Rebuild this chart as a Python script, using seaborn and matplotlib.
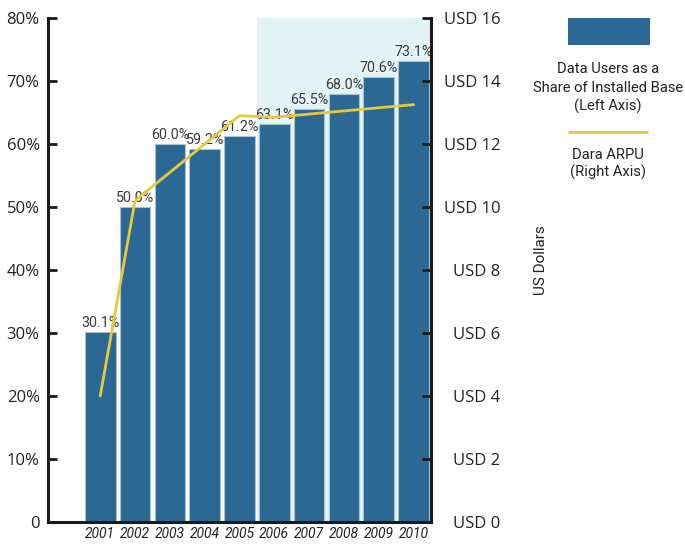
import matplotlib
matplotlib.use("Agg")
import matplotlib.pyplot as plt
from matplotlib.patches import Rectangle
from matplotlib.lines import Line2D
import numpy as np
import pandas as pd
import seaborn as sns

years = ["2001", "2002", "2003", "2004", "2005", "2006", "2007", "2008", "2009", "2010"]
data_share = [30.1, 50.0, 60.0, 59.2, 61.2, 63.1, 65.5, 68.0, 70.6, 73.1]
arpu_usd = [4.0, 10.2, 11.1, 12.0, 12.9, 12.85, 12.95, 13.05, 13.15, 13.25]
left_ticks = [0, 10, 20, 30, 40, 50, 60, 70, 80]
left_labels = ["0", "10%", "20%", "30%", "40%", "50%", "60%", "70%", "80%"]
right_ticks = [0, 2, 4, 6, 8, 10, 12, 14, 16]
right_labels = ["USD 0", "USD 2", "USD 4", "USD 6", "USD 8", "USD 10", "USD 12", "USD 14", "USD 16"]
forecast_start = 4.5  # shading begins between 2005 and 2006

sns.set_theme(style="white")
plt.rcParams["font.family"] = ["Roboto", "DejaVu Sans"]

BAR = "#2b6893"
LINE = "#e8c93a"
SHADE = "#e3f3f6"
TXT = "#222222"
AXIS_FONT = ["Open Sans", "DejaVu Sans"]

df = pd.DataFrame({"year": years, "share": data_share, "idx": np.arange(len(years)), "arpu": arpu_usd})

fig = plt.figure(figsize=(6.85, 5.44), dpi=100)
ax = fig.add_axes([48 / 685, 1 - 522 / 544, (431 - 48) / 685, (522 - 18) / 544])

ax.axvspan(forecast_start, len(years) - 0.5, color=SHADE, zorder=0, lw=0)
sns.barplot(data=df, x="year", y="share", color=BAR, width=0.88, saturation=1,
            edgecolor="#a5c1d4", linewidth=0.8, ax=ax, zorder=2)
ax.set_xlim(-1.5, len(years) - 0.5)
ax.set_ylim(0, 80)
ax.set_yticks(left_ticks)
ax.set_yticklabels(left_labels, fontsize=12, color=TXT, family=AXIS_FONT)
ax.set_xlabel("")
ax.set_ylabel("")
for lbl in ax.get_xticklabels():
    lbl.set_fontstyle("italic")
    lbl.set_fontsize(10)
    lbl.set_color(TXT)
ax.tick_params(axis="x", length=0, pad=3.5)
ax.tick_params(axis="y", direction="in", length=6.5, width=2, color="#1a1a1a", pad=6)

ax.bar_label(ax.containers[0], labels=[f"{v:.1f}%" for v in data_share],
             padding=1.5, fontsize=10.3, color="#3a3a3a")

for side in ["top", "right"]:
    ax.spines[side].set_visible(False)
for side in ["left", "bottom"]:
    ax.spines[side].set_color("#1a1a1a")
    ax.spines[side].set_linewidth(2.2)

ax2 = ax.twinx()
sns.lineplot(data=df, x="idx", y="arpu", color=LINE, linewidth=2.0, ax=ax2, zorder=3)
ax2.set_ylim(0, 16)
ax2.set_xlim(-1.5, len(years) - 0.5)
ax2.set_yticks(right_ticks)
ax2.set_yticklabels(right_labels, fontsize=12, color=TXT, ha="right", family=AXIS_FONT)
ax2.tick_params(axis="y", direction="in", length=6.5, width=2, color="#1a1a1a", pad=50)
ax2.set_ylabel("US Dollars", fontsize=11, color=TXT)
ax2.yaxis.set_label_coords(1.27, 0.52)
ax2.set_xlabel("")
for side in ["top", "left", "bottom"]:
    ax2.spines[side].set_visible(False)
ax2.spines["right"].set_color("#1a1a1a")
ax2.spines["right"].set_linewidth(2.2)
ax2.grid(False)
ax.grid(False)

# Legend drawn in figure space
W, H = 685, 544
fig.patches.append(Rectangle((568 / W, 1 - 45 / H), 82 / W, 27 / H,
                             transform=fig.transFigure, facecolor=BAR, edgecolor="none"))
for y, t in [(69, "Data Users as a"), (88, "Share of Installed Base"), (106, "(Left Axis)")]:
    fig.text(608 / W, 1 - y / H, t, ha="center", va="center", fontsize=10.6, color=TXT)
fig.lines.append(Line2D([569 / W, 647 / W], [1 - 132 / H, 1 - 132 / H],
                        transform=fig.transFigure, color=LINE, linewidth=2.0))
for y, t in [(155, "Dara ARPU"), (172, "(Right Axis)")]:
    fig.text(608 / W, 1 - y / H, t, ha="center", va="center", fontsize=10.6, color=TXT)

fig.savefig("out.png", dpi=100)
